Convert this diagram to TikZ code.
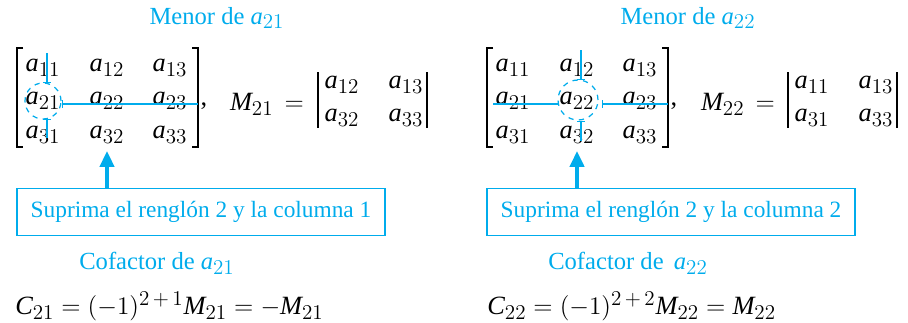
\documentclass[tikz,border=0pt]{standalone}
\usepackage{fontspec}
\setmainfont{Liberation Serif}
\usepackage[italic,noplusnominus]{mathastext}
\usepackage{tikz}
\usetikzlibrary{arrows.meta,calc}
\definecolor{cofcyan}{RGB}{0,172,236}

\tikzset{
  entry/.style={inner sep=0pt, font=\fontsize{15}{17}\selectfont},
  title/.style={text=cofcyan, font=\fontsize{14}{16}\selectfont},
  strike/.style={cofcyan, line width=0.8pt},
  suprbox/.style={draw=cofcyan, line width=1pt, text=cofcyan,
    minimum width=7.36cm, minimum height=0.94cm, font=\fontsize{13.3}{16}\selectfont},
  arrowup/.style={cofcyan, line width=2.2pt, -{Triangle[length=9pt,width=8pt]}},
  delim/.style={line width=0.9pt},
  dashcirc/.style={circle, draw=cofcyan, dashed, line width=0.7pt}
}

\begin{document}
\begin{tikzpicture}[x=0.02cm, y=-0.02cm]
  \useasboundingbox (0,0) rectangle (908,322);

  %% ── Both 3x3 matrices ───────────────────────────────────────────
  \foreach \p/\dx in {l/0, r/470}{
    \foreach \i/\y in {1/68, 2/101, 3/135}{
      \foreach \j/\x in {1/43, 2/107, 3/170}{
        \node[entry] (\p\i\j) at (\x+\dx,\y) {$a_{\i\j}$};
      }
    }
    % brackets
    \draw[delim] (23+\dx,48) -- (17+\dx,48) -- (17+\dx,147) -- (23+\dx,147);
    \draw[delim] (192+\dx,48) -- (198+\dx,48) -- (198+\dx,147) -- (192+\dx,147);
    \node[entry] (\p comma) at (204+\dx,106) {,};
  }

  %% ── Left: minor of a21 ──────────────────────────────────────────
  \node[title] (lmenor) at (217,18) {Menor de $a_{21}$};
  \node[dashcirc, minimum size=0.72cm] (lcirc) at (43,101) {};
  \draw[strike, -{Bar[width=4pt]}] (47,53) -- (47,83);
  \draw[strike, -{Bar[width=4pt]}] (47,138) -- (47,119);
  \draw[strike, {Bar[width=4pt]}-] (62,104) -- (198,104);
  \node[entry] (lM) at (267,104) {$M_{21}\,=$};
  \draw[delim] (318,72) -- (318,128);
  \draw[delim] (427,72) -- (427,128);
  \node[entry] (ld12) at (342,85) {$a_{12}$};
  \node[entry] (ld13) at (406,85) {$a_{13}$};
  \node[entry] (ld32) at (342,118) {$a_{32}$};
  \node[entry] (ld33) at (406,118) {$a_{33}$};

  \node[suprbox] (lbox) at (201,212) {Suprima el renglón 2 y la columna 1};
  \draw[arrowup] (lbox.north -| l32) -- ([yshift=-4]l32.south);
  \node[title] (lcof) at (157,263) {Cofactor de $a_{21}$};
  \node[entry, anchor=west] (lC) at (15,306) {$C_{21} = (-1)^{2\,+\,1}M_{21} = -M_{21}$};

  %% ── Right: minor of a22 ─────────────────────────────────────────
  \node[title] (rmenor) at (688,18) {Menor de $a_{22}$};
  \node[dashcirc, minimum size=0.8cm] (rcirc) at (578,100) {};
  \draw[strike, -{Bar[width=4pt]}] (581,50) -- (581,80);
  \draw[strike, -{Bar[width=4pt]}] (581,141) -- (581,121);
  \draw[strike] (493,104) -- (558,104);
  \draw[strike, {Bar[width=4pt]}-] (602,104) -- (668,104);
  \node[entry] (rM) at (738,104) {$M_{22}\,=$};
  \draw[delim] (788,72) -- (788,128);
  \draw[delim] (897,72) -- (897,128);
  \node[entry] (rd11) at (812,85) {$a_{11}$};
  \node[entry] (rd13) at (876,85) {$a_{13}$};
  \node[entry] (rd31) at (812,118) {$a_{31}$};
  \node[entry] (rd33) at (876,118) {$a_{33}$};

  \node[suprbox] (rbox) at (671,212) {Suprima el renglón 2 y la columna 2};
  \draw[arrowup] (rbox.north -| r32) -- ([yshift=-4]r32.south);
  \node[title] (rcof) at (628,263) {Cofactor de \,$a_{22}$};
  \node[entry, anchor=west] (rC) at (487,306) {$C_{22} = (-1)^{2\,+\,2}M_{22} = M_{22}$};

\end{tikzpicture}
\end{document}
